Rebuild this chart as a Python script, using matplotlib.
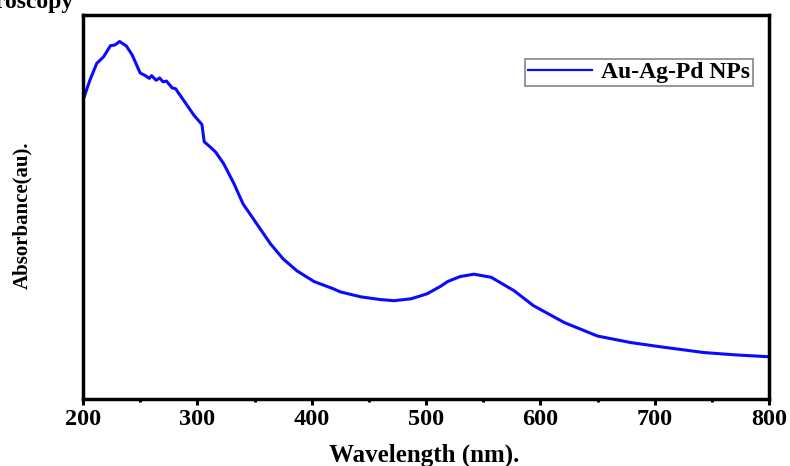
import numpy as np
import matplotlib
matplotlib.use("Agg")
import matplotlib.pyplot as plt

# ---- data (wavelength nm, absorbance a.u.) ----
wavelength = [200, 206, 212, 218, 224, 228, 232, 238, 243, 250, 254, 258, 260, 264,
              267, 270, 273, 278, 281, 291, 297, 304, 306, 311, 316, 323, 332, 340,
              352, 364, 375, 387, 402, 419, 425, 443, 460, 472, 487, 501, 513, 519,
              530, 542, 557, 577, 594, 621, 650, 679, 705, 743, 770, 800]
absorbance = [0.778, 0.830, 0.874, 0.891, 0.920, 0.922, 0.931, 0.919, 0.896, 0.849,
              0.843, 0.835, 0.842, 0.830, 0.836, 0.826, 0.828, 0.810, 0.808, 0.765,
              0.739, 0.715, 0.670, 0.657, 0.643, 0.613, 0.561, 0.508, 0.456, 0.404,
              0.365, 0.334, 0.306, 0.287, 0.279, 0.266, 0.259, 0.256, 0.261, 0.274,
              0.294, 0.306, 0.319, 0.325, 0.317, 0.282, 0.243, 0.199, 0.164, 0.147,
              0.136, 0.121, 0.115, 0.110]
series_label = "Au-Ag-Pd NPs"
xticks = [200, 300, 400, 500, 600, 700, 800]

plt.rcParams["font.family"] = ["Liberation Serif", "DejaVu Serif"]
plt.rcParams["font.weight"] = "bold"

W, H = 790, 466
fig = plt.figure(figsize=(W / 100, H / 100), dpi=100)
ax = fig.add_axes([83 / W, 1 - 399 / H, (769 - 83) / W, (399 - 15) / H])

ax.plot(wavelength, absorbance, color="#0a0aff", lw=2.2, label=series_label)

ax.set_xlim(200, 800)
ax.set_ylim(0, 1)
ax.set_xticks(xticks)
ax.set_xticks(range(250, 800, 100), minor=True)
ax.set_yticks([])
ax.tick_params(axis="x", which="major", direction="out", length=4.5, width=2.2,
               labelsize=17.5, pad=3)
ax.tick_params(axis="x", which="minor", direction="out", length=2.5, width=2.2)
for lab in ax.get_xticklabels():
    lab.set_fontweight("bold")
for side in ["left", "bottom", "top", "right"]:
    ax.spines[side].set_linewidth(2.5)

fig.text(424 / W, 1 - 462 / H, "Wavelength (nm).", ha="center", va="baseline",
         fontsize=18, fontweight="bold")
fig.text(22 / W, 1 - 215 / H, "Absorbance(au).", ha="center", va="center",
         rotation=90, fontsize=15, fontweight="bold")

leg = ax.legend(loc="upper right", bbox_to_anchor=(753 / W, 1 - 59 / H),
                bbox_transform=fig.transFigure, borderaxespad=0,
                prop={"weight": "bold", "size": 17}, fancybox=False,
                handlelength=2.7, handletextpad=0.4, borderpad=0.12)
leg.get_frame().set_edgecolor("#666666")
leg.get_frame().set_linewidth(1.2)
leg.get_lines()[0].set_linewidth(1.6)

fig.text(73 / W, 1 - 8 / H, "UV-Visible Spectroscopy", ha="right", va="baseline",
         fontsize=17, fontweight="bold")

fig.savefig("out.png", dpi=100)
